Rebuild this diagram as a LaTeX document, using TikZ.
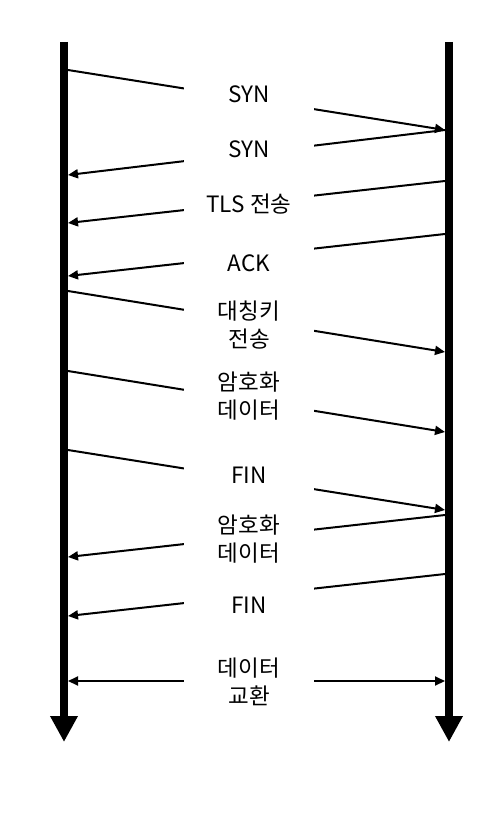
\documentclass[tikz,border=0pt]{standalone}
\usepackage{fontspec}
\setmainfont{Noto Sans CJK KR}
\usepackage{tikz}
\usetikzlibrary{arrows.meta, positioning}

\begin{document}
\begin{tikzpicture}[x=1pt, y=-1pt,
		lifeline/.style={line width=8pt, -{Triangle[length=26pt, width=26pt]}},
		msg/.style={line width=2pt, >={Triangle[length=10pt, width=9pt]}},
		lbl/.style={fill=white, inner sep=0pt, minimum width=130pt, minimum height=40pt, align=center, font=\fontsize{22.5}{28}\selectfont}]
		\useasboundingbox (0,0) rectangle (502,818);
		\pgfmathsetmacro{\lx}{68}
		\pgfmathsetmacro{\rx}{445}
		\pgfmathsetmacro{\mx}{249}
		% lifelines
		\coordinate (clienttop) at (64,42);
		\coordinate (clientend) at (64,742);
		\coordinate (servertop) at (449,42);
		\coordinate (serverend) at (449,742);
		\draw[lifeline] (clienttop) -- (clientend);
		\draw[lifeline] (servertop) -- (serverend);
		
		% end points on the lifelines
		\coordinate (c1) at (\lx,70);   \coordinate (s1) at (\rx,130);
		\coordinate (c2) at (\lx,175);  \coordinate (s2) at (\rx,130);
		\coordinate (c3) at (\lx,223);  \coordinate (s3) at (\rx,181);
		\coordinate (c4) at (\lx,276);  \coordinate (s4) at (\rx,234);
		\coordinate (c5) at (\lx,291);  \coordinate (s5) at (\rx,352);
		\coordinate (c6) at (\lx,371);  \coordinate (s6) at (\rx,432);
		\coordinate (c7) at (\lx,450);  \coordinate (s7) at (\rx,510);
		\coordinate (c8) at (\lx,557);  \coordinate (s8) at (\rx,515);
		\coordinate (c9) at (\lx,616);  \coordinate (s9) at (\rx,574);
		\coordinate (c10) at (\lx,681); \coordinate (s10) at (\rx,681);
		
		% messages
		\draw[msg, ->] (c1) -- (s1);
		\draw[msg, ->] (s2) -- (c2);
		\draw[msg, ->] (s3) -- (c3);
		\draw[msg, ->] (s4) -- (c4);
		\draw[msg, ->] (c5) -- (s5);
		\draw[msg, ->] (c6) -- (s6);
		\draw[msg, ->] (c7) -- (s7);
		\draw[msg, ->] (s8) -- (c8);
		\draw[msg, ->] (s9) -- (c9);
		\draw[msg, <->] (c10) -- (s10);
		
		% labels
		\node[lbl] (syn1) at (\mx,94) {SYN};
		\node[lbl] (syn2) at (\mx,149) {SYN};
		\node[lbl] (tls) at (\mx,204) {TLS 전송};
		\node[lbl] (ack) at (\mx,263) {ACK};
		\node[lbl] (key) at (\mx,325) {대칭키\\전송};
		\node[lbl] (data1) at (\mx,396) {암호화\\데이터};
		\node[lbl] (fin1) at (\mx,475) {FIN};
		\node[lbl] (data2) at (\mx,539) {암호화\\데이터};
		\node[lbl] (fin2) at (\mx,605) {FIN};
		\node[lbl] (swap) at (\mx,682) {데이터\\교환};
\end{tikzpicture}
\end{document}
